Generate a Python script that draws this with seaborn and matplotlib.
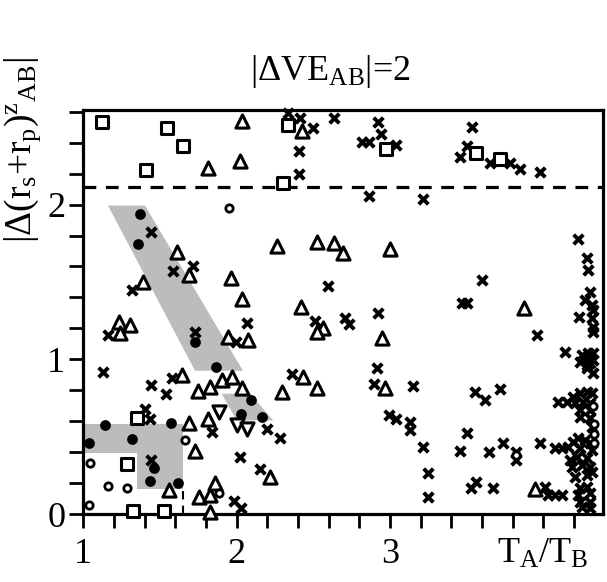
import numpy as np
import matplotlib
matplotlib.use("Agg")
import matplotlib.pyplot as plt
import seaborn as sns
from matplotlib.ticker import MultipleLocator, FuncFormatter

# open squares
sq_x = [1.12, 1.544, 1.648, 1.409, 2.333, 2.305, 2.975, 3.56, 3.718, 1.348, 1.287, 1.326, 1.528]
sq_y = [2.536, 2.493, 2.379, 2.224, 2.514, 2.142, 2.359, 2.332, 2.293, 0.619, 0.323, 0.021, 0.021]

# open triangles (up)
tri_x = [2.033, 1.815, 2.022, 2.425, 1.613, 2.262, 2.523, 2.635, 2.692, 3.0,
         1.391, 1.691, 1.963, 2.037, 2.418, 1.235, 1.305, 1.239, 1.946, 2.076, 2.566, 2.523,
         1.642, 1.75, 1.826, 1.903, 1.968, 2.033, 2.294, 2.435, 2.523,
         1.815, 1.691, 1.729, 2.218, 1.561, 1.752, 1.826, 1.859, 1.826,
         2.947, 2.968, 3.877, 3.946]
tri_y = [2.542, 2.239, 2.282, 2.478, 1.696, 1.734, 1.756, 1.75, 1.685, 1.713,
         1.502, 1.545, 1.524, 1.39, 1.34, 1.243, 1.222, 1.168, 1.146, 1.125, 1.2, 1.178,
         0.899, 0.797, 0.823, 0.866, 0.888, 0.813, 0.791, 0.888, 0.813,
         0.612, 0.586, 0.409, 0.241, 0.155, 0.108, 0.123, 0.202, 0.015,
         1.136, 0.813, 1.334, 0.16]

# open triangles (down)
tdn_x = [1.887, 2.005, 2.07]
tdn_y = [0.661, 0.575, 0.548]

# filled circles
dot_x = [1.37, 1.359, 1.729, 1.866, 2.092, 2.027, 2.168, 1.142, 1.039, 1.32, 1.572, 1.461, 1.435, 1.62]
dot_y = [1.939, 1.743, 1.114, 0.948, 0.737, 0.646, 0.625, 0.575, 0.461, 0.485, 0.586, 0.299, 0.215, 0.198]

# small open circles
circ_x = [1.95, 1.663, 1.044, 1.163, 1.283, 1.039, 1.887, 3.823, 4.33, 4.33, 4.33, 4.325]
circ_y = [1.976, 0.478, 0.328, 0.183, 0.166, 0.058, 0.138, 0.38, 0.58, 0.52, 0.46, 0.70]

# crosses
x_x = [2.337, 2.414, 2.5, 2.635, 2.409, 2.409,
       2.924, 2.94, 2.816, 2.866, 3.04, 3.534, 3.505, 3.457, 3.653, 3.783, 3.849, 3.979,
       2.864, 3.218,
       1.44, 1.587, 1.718, 1.32, 2.598, 1.163, 2.066, 1.994, 2.511, 1.729, 1.126, 1.442,
       1.539, 1.577, 2.363, 1.402, 1.435, 1.838, 2.196, 2.283, 2.022, 2.153, 1.442, 1.983, 2.029,
       3.6, 3.468, 3.505, 2.92, 2.707, 2.733, 3.961, 4.142, 2.914, 2.898, 3.153, 3.555, 3.62,
       3.718, 2.996, 3.04, 3.131, 3.131, 3.214, 3.247, 3.247, 3.505, 3.457, 3.646, 3.74,
       3.823, 3.823, 3.979, 3.56, 3.529, 3.671, 4.012, 4.033, 4.077, 4.125,
       4.229, 4.284, 4.29, 4.305, 4.273, 4.316, 4.327, 4.236, 4.316, 4.327, 4.327,
       4.251, 4.294, 4.327, 4.24, 4.284, 4.327, 4.284, 4.305, 4.284, 4.327,
       4.098, 4.153, 4.196, 4.24, 4.284, 4.316, 4.207, 4.262, 4.305, 4.24, 4.305, 4.24,
       4.305, 4.316,
       4.077, 4.121, 4.164, 4.196, 4.229, 4.273, 4.305, 4.316, 4.24,
       4.175, 4.218, 4.284, 4.186, 4.251, 4.305, 4.207, 4.284, 4.316,
       4.24, 4.284, 4.229, 4.305, 4.24, 4.305, 4.251, 4.305]
x_y = [2.59, 2.562, 2.493, 2.562, 2.348, 2.198,
       2.536, 2.454, 2.407, 2.407, 2.385, 2.503, 2.379, 2.31, 2.271, 2.271, 2.228, 2.209,
       2.056, 2.036,
       1.825, 1.571, 1.605, 1.448, 1.476, 1.157, 1.233, 1.114, 1.25, 1.178, 0.92, 0.834,
       0.774, 0.881, 0.905, 0.677, 0.612, 0.532, 0.548, 0.489, 0.37, 0.291, 0.349, 0.086, 0.037,
       1.51, 1.362, 1.362, 1.297, 1.265, 1.228, 1.157, 1.049, 0.942, 0.84, 0.829, 0.787, 0.737,
       0.806, 0.64, 0.614, 0.597, 0.543, 0.431, 0.263, 0.112, 0.522, 0.409, 0.399, 0.457,
       0.403, 0.349, 0.461, 0.209, 0.166, 0.166, 0.176, 0.123, 0.123, 0.123,
       1.776, 1.657, 1.575, 1.437, 1.383, 1.351, 1.319, 1.271, 1.265, 1.211, 1.178,
       1.028, 1.039, 1.039, 0.985, 0.995, 0.995, 0.963, 0.974, 0.942, 0.909,
       0.726, 0.726, 0.758, 0.78, 0.79, 0.78, 0.716, 0.726, 0.716, 0.672, 0.672, 0.629,
       0.619, 0.564,
       0.425, 0.425, 0.431, 0.467, 0.489, 0.478, 0.457, 0.414, 0.425,
       0.349, 0.37, 0.36, 0.306, 0.317, 0.306, 0.241, 0.252, 0.273,
       0.166, 0.176, 0.123, 0.134, 0.08, 0.08, 0.047, 0.037]

# shaded regions (polygon vertices)
band1_x = [1.161, 1.402, 2.042, 1.729]
band1_y = [1.994, 1.994, 0.926, 0.926]
band2_x = [1.903, 2.088, 2.239, 2.0]
band2_y = [0.778, 0.778, 0.605, 0.605]
band3_x = [1.011, 1.652, 1.652, 1.348, 1.348, 1.011]
band3_y = [0.583, 0.583, 0.159, 0.159, 0.394, 0.394]

limit_y = 2.116
vline_x = [1.652, 1.652]
vline_y = [0.0, 0.15]

sns.set_theme(style="white")
plt.rcParams["font.family"] = ["Liberation Serif", "DejaVu Serif"]
plt.rcParams["mathtext.fontset"] = "custom"
plt.rcParams["mathtext.rm"] = "Liberation Serif"
plt.rcParams["mathtext.it"] = "Liberation Serif:italic"

fig = plt.figure(figsize=(6.07, 5.82), dpi=100)
ax = fig.add_axes([0.1372, 0.1168, 0.8562, 0.6938])

shade = "#bcbcbc"
ax.fill(band1_x, band1_y, color=shade, lw=0, zorder=1)
ax.fill(band2_x, band2_y, color=shade, lw=0, zorder=1)
ax.fill(band3_x, band3_y, color=shade, lw=0, zorder=1)

ax.axhline(limit_y, color="black", lw=2.3, dashes=(4, 3), zorder=2)
ax.plot(vline_x, vline_y, color="black", lw=1.5, dashes=(4, 3), zorder=2)

sns.scatterplot(x=x_x, y=x_y, marker="x", color="black", s=48, linewidth=2.8, ax=ax, zorder=3, clip_on=False)
sns.scatterplot(x=sq_x, y=sq_y, marker="s", s=85, facecolor="white", edgecolor="black", linewidth=2.2, ax=ax, zorder=4, clip_on=False)
sns.scatterplot(x=tri_x, y=tri_y, marker="^", s=90, facecolor="white", edgecolor="black", linewidth=2.2, ax=ax, zorder=4, clip_on=False)
sns.scatterplot(x=tdn_x, y=tdn_y, marker="v", s=90, facecolor="white", edgecolor="black", linewidth=2.2, ax=ax, zorder=4)
sns.scatterplot(x=dot_x, y=dot_y, marker="o", s=60, color="black", linewidth=0, ax=ax, zorder=4)
sns.scatterplot(x=circ_x, y=circ_y, marker="o", s=28, facecolor="white", edgecolor="black", linewidth=2, ax=ax, zorder=4)

ax.set_xlim(1.0, 4.39)
ax.set_ylim(0.0, 2.61)

ax.xaxis.set_major_locator(MultipleLocator(0.2))
ax.yaxis.set_major_locator(MultipleLocator(0.2))


def xfmt(v, pos):
    if abs(v - 4) < 1e-6:
        return r"$\mathrm{T_A/T_B}$"
    if abs(v - round(v)) < 1e-6:
        return str(int(round(v)))
    return ""


def yfmt(v, pos):
    if abs(v - round(v)) < 1e-6:
        return str(int(round(v)))
    return ""


ax.xaxis.set_major_formatter(FuncFormatter(xfmt))
ax.yaxis.set_major_formatter(FuncFormatter(yfmt))
ax.tick_params(axis="both", direction="out", length=10, width=2, color="black",
               labelsize=26, labelcolor="black", bottom=True, left=True)
ax.tick_params(axis="x", pad=7)
ax.tick_params(axis="y", pad=3)

for s in ax.spines.values():
    s.set_color("black")
    s.set_linewidth(2.3)

ax.set_xlabel("")
ax.set_ylabel("")

fig.text(330 / 607, 1 - 72 / 582, r"$|\Delta\mathrm{VE_{AB}}|$=2", ha="center", va="center",
         fontsize=26, color="black")
fig.text(23 / 607, 1 - 150 / 582, r"$|\Delta(\mathrm{r_s}$+$\mathrm{r_p})^{\mathrm{z}}\mathrm{{}_{AB}}|$",
         rotation=90, ha="center", va="center", fontsize=27, color="black")

fig.savefig("out.png", dpi=100)
